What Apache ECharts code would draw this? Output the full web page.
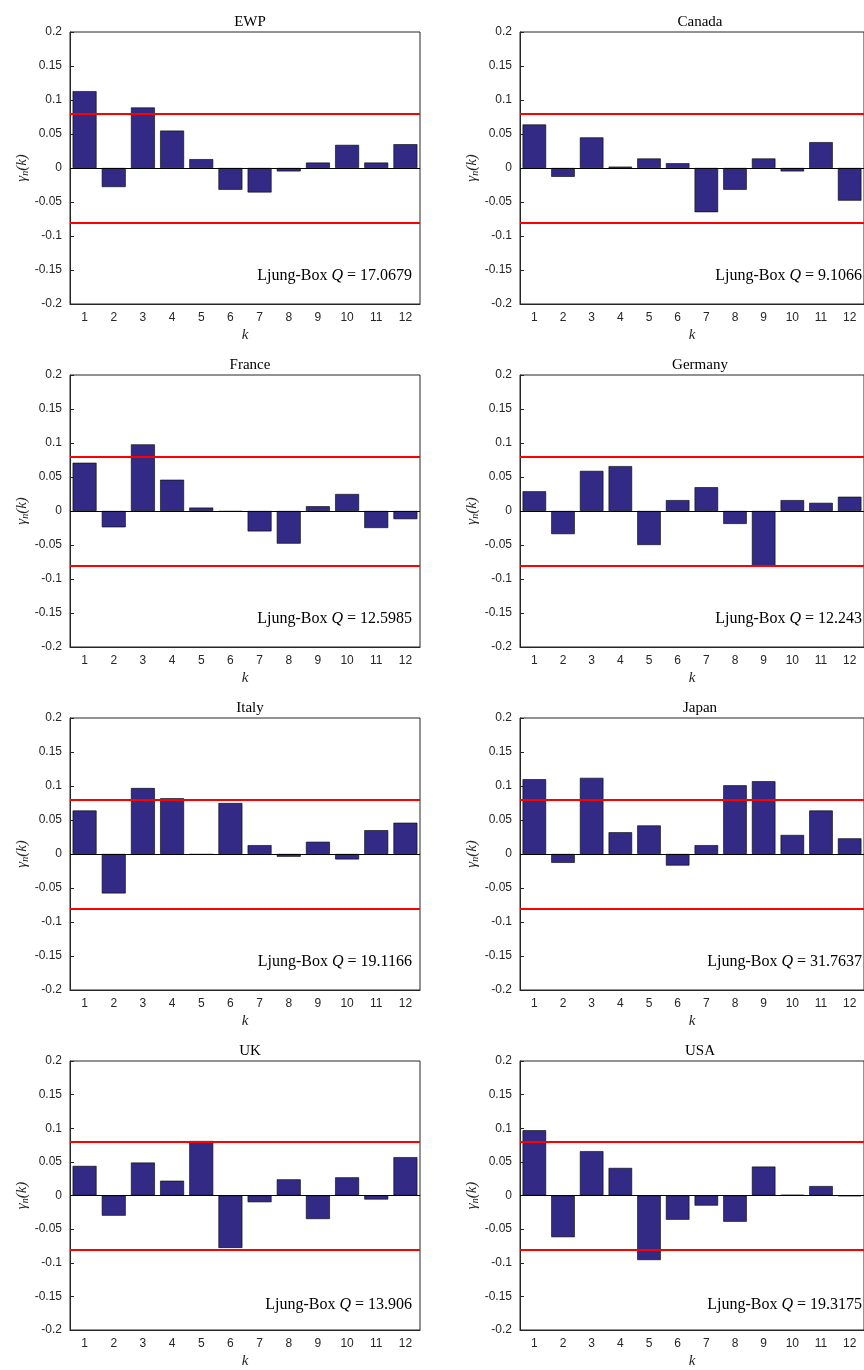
<!DOCTYPE html><html><head><meta charset="utf-8"><script src="https://cdn.jsdelivr.net/npm/echarts@6/dist/echarts.min.js"></script>
<style>html,body{margin:0;background:#fff}#c{width:864px;height:1370px}</style></head><body><div id="c"></div><script>
const categories=['1','2','3','4','5','6','7','8','9','10','11','12'];
const yTicks=[-0.2,-0.15,-0.1,-0.05,0,0.05,0.1,0.15,0.2];
const names=['EWP','Canada','France','Germany','Italy','Japan','UK','USA'];
const qStats=['17.0679','9.1066','12.5985','12.243','19.1166','31.7637','13.906','19.3175'];
const bound=0.0825;
const EWP=[0.113,-0.028,0.089,0.055,0.013,-0.032,-0.036,-0.005,0.008,0.034,0.008,0.035];
const Canada=[0.064,-0.013,0.045,0.002,0.014,0.007,-0.065,-0.032,0.014,-0.005,0.038,-0.048];
const France=[0.071,-0.024,0.098,0.046,0.005,-0.001,-0.030,-0.048,0.007,0.025,-0.025,-0.012];
const Germany=[0.029,-0.034,0.059,0.066,-0.050,0.016,0.035,-0.019,-0.081,0.016,0.012,0.021];
const Italy=[0.064,-0.058,0.097,0.082,-0.001,0.075,0.013,-0.004,0.018,-0.008,0.035,0.046];
const Japan=[0.110,-0.013,0.112,0.032,0.042,-0.017,0.013,0.101,0.107,0.028,0.064,0.023];
const UK=[0.044,-0.030,0.049,0.022,0.081,-0.078,-0.010,0.024,-0.035,0.027,-0.006,0.057];
const USA=[0.097,-0.062,0.066,0.041,-0.096,-0.036,-0.015,-0.039,0.043,0.001,0.014,-0.001];
const data=[EWP,Canada,France,Germany,Italy,Japan,UK,USA];
const grids=[],xAxis=[],yAxis=[],series=[],title=[];
const tops=[32,375,718,1061];
for(let i=0;i<8;i++){
 const left=i%2?520:70, top=tops[Math.floor(i/2)];
 grids.push({left,top,width:350,height:272,show:true,borderColor:'#262626',borderWidth:1,backgroundColor:'#fff'});
 xAxis.push({type:'category',gridIndex:i,data:categories,position:'bottom',axisLine:{onZero:false,lineStyle:{color:'#262626'}},
  axisTick:{inside:true,alignWithLabel:true,length:4,lineStyle:{color:'#262626'}},axisLabel:{color:'#262626',fontFamily:'Liberation Sans',fontSize:12,margin:8},
  name:'k',nameLocation:'middle',nameGap:24,nameTextStyle:{fontFamily:'Liberation Serif',fontStyle:'italic',fontSize:15,color:'#262626'}});
 yAxis.push({type:'value',gridIndex:i,min:-0.2,max:0.2,interval:0.05,axisLine:{show:true,lineStyle:{color:'#262626'}},
  axisTick:{show:true,inside:true,length:4,lineStyle:{color:'#262626'}},splitLine:{show:false},
  axisLabel:{color:'#262626',fontFamily:'Liberation Sans',fontSize:12,formatter:v=>String(Math.round(v*100)/100)},
  name:'{g|γ}{s|n}{g|(k)}',nameLocation:'middle',nameGap:40,nameRotate:90,
  nameTextStyle:{rich:{g:{fontFamily:'Liberation Serif',fontStyle:'italic',fontSize:15,color:'#262626'},s:{fontFamily:'Liberation Serif',fontStyle:'italic',fontSize:10,color:'#262626',verticalAlign:'bottom',padding:[6,0,0,0]}}}});
 series.push({type:'bar',xAxisIndex:i,yAxisIndex:i,data:data[i],barWidth:'82%',itemStyle:{color:'#332a86',borderColor:'#000',borderWidth:0.6},
  markLine:{silent:true,symbol:'none',label:{show:false},data:[
   {yAxis:bound,lineStyle:{color:'#ff0000',width:2,type:'solid'}},
   {yAxis:-bound,lineStyle:{color:'#ff0000',width:2,type:'solid'}},
   {yAxis:0,lineStyle:{color:'#000',width:1,type:'solid'}}]}});
 title.push({text:names[i],left:left+175,top:top-22,textAlign:'center',textStyle:{fontFamily:'Liberation Serif',fontWeight:'normal',fontSize:15,color:'#000'}});
 title.push({text:'{n|Ljung-Box }{q|Q}{n| = '+qStats[i]+'}',left:left+337,top:top+231,textAlign:'right',
  textStyle:{fontWeight:'normal',rich:{n:{fontFamily:'Liberation Serif',fontWeight:'normal',fontSize:16,color:'#000'},q:{fontFamily:'Liberation Serif',fontWeight:'normal',fontStyle:'italic',fontSize:16,color:'#000'}}}});
}
const ch=echarts.init(document.getElementById('c'),null,{renderer:'canvas'});
ch.setOption({animation:false,backgroundColor:'#fff',title,grid:grids,xAxis,yAxis,series});
</script></body></html>
